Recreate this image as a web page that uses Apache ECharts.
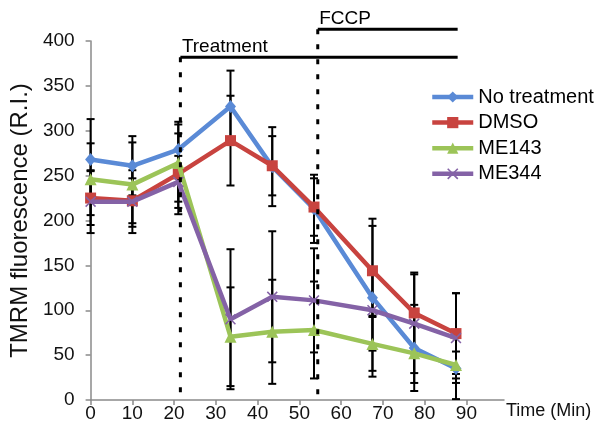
<!DOCTYPE html>
<html><head><meta charset="utf-8">
<script src="https://cdn.jsdelivr.net/npm/echarts@6/dist/echarts.min.js"></script>
<style>html,body{margin:0;padding:0;background:#fff}#c{width:600px;height:443px}</style>
</head><body><div id="c"></div>
<script>
// ---- data ----
const times = [0, 10, 21, 33.5, 43.5, 53.5, 67.5, 77.5, 87.5];
const seriesNames = ['No treatment', 'DMSO', 'ME143', 'ME344'];
const noTreatment    = [268, 261, 279, 327, 260, 213, 114, 58, 35];
const noTreatmentErr = [45, 33, 31, 40, 44, 38, 88, 48, 34];
const dmso           = [225, 222, 252, 289, 261, 215, 144, 97, 74];
const dmsoErr        = [30, 25, 45, 50, 33, 32, 50, 45, 45];
const me143          = [246, 240, 264, 70.5, 76, 78, 62.5, 52, 39];
const me143Err       = [40, 47, 43, 55, 58, 54, 30, 33, 15];
const me344          = [221, 221, 243, 90, 115, 111, 100, 85, 69];
const me344Err       = [35, 35, 29, 78, 73, 58, 45, 55, 50];
const xTickValues = [0, 10, 20, 30, 40, 50, 60, 70, 80, 90];
// annotations: [start time, bar level, end time]
const annotationLabels = ['Treatment', 'FCCP'];
const annotationStart = [21.5, 54.4];
const annotationLevel = [382, 413];
const annotationEnd = [87.9, 87.9];

const FONT = 'Liberation Sans, Arial, sans-serif';
const colors = ['#5a8ad6', '#c8433f', '#9cc458', '#8462a6'];
const symbols = ['diamond', 'rect', 'triangle',
  'path://M0,1L1,0L5,4L9,0L10,1L6,5L10,9L9,10L5,6L1,10L0,9L4,5Z'];
const symbolSizes = [[11, 13], 11, 12, 11];
const values = [noTreatment, dmso, me143, me344];
const errs = [noTreatmentErr, dmsoErr, me143Err, me344Err];

const chart = echarts.init(document.getElementById('c'));

function errRender(params, api) {
  const x = api.value(0), lo = api.value(1), hi = api.value(2);
  const a = api.coord([x, lo]), b = api.coord([x, hi]);
  const hw = 4;
  const st = {stroke: '#000', lineWidth: 2};
  return {type: 'group', children: [
    {type: 'line', shape: {x1: a[0], y1: a[1], x2: b[0], y2: b[1]}, style: st},
    {type: 'line', shape: {x1: a[0]-hw, y1: a[1], x2: a[0]+hw, y2: a[1]}, style: st},
    {type: 'line', shape: {x1: b[0]-hw, y1: b[1], x2: b[0]+hw, y2: b[1]}, style: st}
  ]};
}

function annRender(params, api) {
  const i = params.dataIndex;
  const s = api.value(0), lvl = api.value(1), e = api.value(2);
  const p0 = api.coord([s, lvl]), p1 = api.coord([e, lvl]), pb = api.coord([s, 0]);
  return {type: 'group', children: [
    {type: 'line', shape: {x1: p0[0], y1: p0[1], x2: pb[0], y2: pb[1]},
      style: {stroke: '#000', lineWidth: 3, lineDash: [5, 10]}},
    {type: 'line', shape: {x1: p0[0], y1: p0[1], x2: p1[0], y2: p1[1]},
      style: {stroke: '#000', lineWidth: 3}},
    {type: 'text', style: {text: annotationLabels[i], x: p0[0] + 1.5, y: p0[1] - 10.5,
      fontSize: 19, fontFamily: FONT, fill: '#000', align: 'left', verticalAlign: 'middle'}}
  ]};
}

const series = [];
values.forEach((vals, k) => {
  series.push({
    type: 'custom', renderItem: errRender, z: 1, silent: true,
    encode: {x: 0, y: [1, 2]},
    data: times.map((t, i) => [t, vals[i] - errs[k][i], vals[i] + errs[k][i]])
  });
});
values.forEach((vals, k) => {
  series.push({
    name: seriesNames[k], type: 'line', z: 3 + k,
    data: times.map((t, i) => [t, vals[i]]),
    symbol: symbols[k], symbolSize: symbolSizes[k],
    lineStyle: {width: 4.5, color: colors[k]},
    itemStyle: {color: colors[k], borderWidth: 0},
    color: colors[k]
  });
});
series.push({
  type: 'custom', renderItem: annRender, clip: false, z: 10, silent: true,
  encode: {x: [0, 2], y: 1},
  data: annotationStart.map((s, i) => [s, annotationLevel[i], annotationEnd[i]])
});

chart.setOption({
  animation: false,
  backgroundColor: '#fff',
  grid: {left: 89, right: 96, top: 41, bottom: 43},
  legend: {
    data: seriesNames, orient: 'vertical', left: 425, top: 82,
    itemWidth: 41, itemHeight: 14, itemGap: 5.6,
    lineStyle: {width: 4.5},
    textStyle: {fontSize: 20, fontFamily: FONT, color: '#000'}
  },
  xAxis: {
    type: 'value', min: 0, max: 99, interval: 10,
    splitLine: {show: false},
    axisLine: {lineStyle: {color: '#8a8a8a', width: 1.5}},
    axisTick: {length: 5, lineStyle: {color: '#8a8a8a', width: 1.5}, customValues: xTickValues},
    axisLabel: {fontSize: 19, fontFamily: FONT, color: '#111', margin: 4, customValues: xTickValues}
  },
  yAxis: {
    type: 'value', min: 0, max: 400, interval: 50,
    name: 'TMRM fluorescence (R.I.)', nameLocation: 'middle', nameGap: 56,
    nameTextStyle: {fontSize: 24, fontFamily: FONT, color: '#111'},
    splitLine: {show: false},
    axisLine: {show: true, lineStyle: {color: '#8a8a8a', width: 1.5}},
    axisTick: {show: true, length: 5, lineStyle: {color: '#8a8a8a', width: 1.5}},
    axisLabel: {fontSize: 19, fontFamily: FONT, color: '#111', margin: 16}
  },
  graphic: [{type: 'text', left: 506, top: 402,
    style: {text: 'Time (Min)', fontSize: 18, fontFamily: FONT, fill: '#111'}}],
  series: series
});
</script></body></html>
